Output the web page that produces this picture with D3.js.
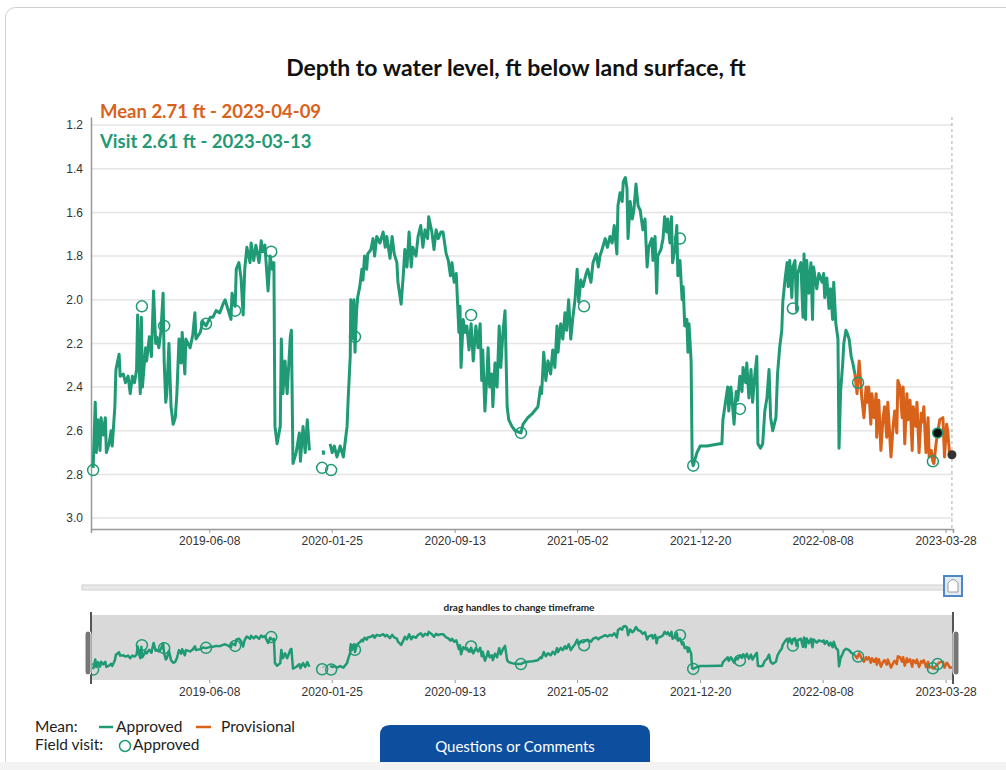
<!DOCTYPE html>
<html>
<head>
<meta charset="utf-8">
<script src="https://cdn.jsdelivr.net/npm/d3@7"></script>
<style>
  body { margin: 0; background: #fff; }
  svg { display: block; }
  .tick text { font-family: "Liberation Sans", Arial, sans-serif; fill: #333; }
</style>
</head>
<body>
<svg width="1006" height="770"></svg>
<script>
// Daily mean depth (ft below land surface)
const approved = [
  ["2018-11-01",2.77],["2018-11-05",2.47],["2018-11-07",2.70],["2018-11-10",2.55],["2018-11-14",2.69],
  ["2018-11-16",2.54],["2018-11-20",2.62],["2018-11-24",2.54],["2018-11-26",2.70],["2018-12-01",2.66],
  ["2018-12-05",2.60],["2018-12-07",2.67],["2018-12-12",2.49],["2018-12-14",2.32],["2018-12-20",2.25],
  ["2018-12-22",2.35],["2018-12-28",2.34],["2019-01-01",2.38],["2019-01-06",2.35],["2019-01-10",2.43],
  ["2019-01-14",2.35],["2019-01-18",2.38],["2019-01-22",2.32],["2019-01-24",2.07],["2019-01-27",2.32],
  ["2019-01-29",2.43],["2019-01-31",2.08],["2019-02-02",2.40],["2019-02-08",2.22],["2019-02-10",2.28],
  ["2019-02-15",2.17],["2019-02-19",2.26],["2019-02-23",1.96],["2019-02-27",2.20],["2019-03-01",2.17],
  ["2019-03-05",2.22],["2019-03-09",2.14],["2019-03-13",1.97],["2019-03-15",2.28],["2019-03-18",2.47],
  ["2019-03-20",2.43],["2019-03-24",2.20],["2019-03-28",2.49],["2019-04-01",2.57],["2019-04-05",2.54],
  ["2019-04-08",2.43],["2019-04-12",2.18],["2019-04-16",2.29],["2019-04-18",2.15],["2019-04-23",2.34],
  ["2019-04-25",2.18],["2019-05-03",2.22],["2019-05-08",2.16],["2019-05-12",2.06],["2019-05-14",2.18],
  ["2019-05-22",2.15],["2019-05-27",2.10],["2019-06-02",2.12],["2019-06-10",2.08],["2019-06-15",2.08],
  ["2019-06-21",2.05],["2019-06-28",2.06],["2019-07-04",2.02],["2019-07-08",2.00],["2019-07-14",2.05],
  ["2019-07-19",2.09],["2019-07-21",1.97],["2019-07-27",2.03],["2019-07-29",1.86],["2019-08-03",1.83],
  ["2019-08-07",1.90],["2019-08-11",2.07],["2019-08-14",1.86],["2019-08-18",1.76],["2019-08-24",1.83],
  ["2019-08-26",1.74],["2019-08-31",1.82],["2019-09-04",1.75],["2019-09-10",1.83],["2019-09-14",1.73],
  ["2019-09-17",1.78],["2019-09-21",1.75],["2019-09-27",1.96],["2019-10-01",1.80],["2019-10-05",1.86],
  ["2019-10-08",1.83],["2019-10-10",2.58],["2019-10-14",2.66],["2019-10-20",2.58],["2019-10-22",2.18],
  ["2019-10-25",2.43],["2019-10-29",2.28],["2019-11-02",2.43],["2019-11-08",2.17],["2019-11-10",2.14],
  ["2019-11-13",2.75],["2019-11-19",2.70],["2019-11-25",2.61],["2019-11-27",2.74],["2019-12-02",2.58],
  ["2019-12-06",2.70],["2019-12-10",2.55],["2019-12-14",2.69],["2019-12-15",null],
  ["2020-01-09",2.69],["2020-01-10",2.71],["2020-01-11",null],
  ["2020-01-22",2.66],["2020-01-26",2.70],["2020-01-30",2.67],["2020-02-04",2.72],["2020-02-10",2.67],
  ["2020-02-16",2.72],["2020-02-20",2.64],["2020-02-23",2.58],["2020-02-25",2.46],["2020-02-29",2.26],
  ["2020-03-01",2.00],["2020-03-03",2.18],["2020-03-07",2.00],["2020-03-09",2.24],["2020-03-12",2.05],
  ["2020-03-14",1.99],["2020-03-18",1.94],["2020-03-22",1.86],["2020-03-24",1.91],["2020-03-27",1.80],
  ["2020-03-31",1.86],["2020-04-02",1.79],["2020-04-08",1.77],["2020-04-12",1.72],["2020-04-15",1.80],
  ["2020-04-19",1.71],["2020-04-25",1.74],["2020-05-01",1.69],["2020-05-05",1.76],["2020-05-08",1.71],
  ["2020-05-14",1.81],["2020-05-18",1.71],["2020-05-22",1.79],["2020-05-27",1.83],["2020-05-29",1.92],
  ["2020-06-04",2.02],["2020-06-08",1.89],["2020-06-11",1.77],["2020-06-15",1.85],["2020-06-19",1.69],
  ["2020-06-23",1.85],["2020-06-26",1.76],["2020-07-02",1.80],["2020-07-06",1.71],["2020-07-11",1.66],
  ["2020-07-15",1.76],["2020-07-19",1.68],["2020-07-24",1.72],["2020-07-26",1.62],["2020-08-01",1.69],
  ["2020-08-05",1.77],["2020-08-09",1.68],["2020-08-13",1.72],["2020-08-18",1.69],["2020-08-22",1.69],
  ["2020-08-28",1.79],["2020-09-01",1.82],["2020-09-05",1.89],["2020-09-08",1.83],["2020-09-12",1.92],
  ["2020-09-16",1.88],["2020-09-18",1.99],["2020-09-21",2.15],["2020-09-23",2.03],["2020-09-25",2.31],
  ["2020-09-29",2.09],["2020-10-03",2.15],["2020-10-06",2.12],["2020-10-10",2.23],["2020-10-14",2.11],
  ["2020-10-18",2.28],["2020-10-23",2.12],["2020-10-27",2.22],["2020-10-31",2.11],["2020-11-03",2.37],
  ["2020-11-05",2.23],["2020-11-09",2.51],["2020-11-13",2.34],["2020-11-15",2.22],["2020-11-18",2.40],
  ["2020-11-22",2.34],["2020-11-24",2.49],["2020-11-28",2.29],["2020-12-02",2.40],["2020-12-06",2.12],
  ["2020-12-09",2.31],["2020-12-13",2.15],["2020-12-17",2.05],["2020-12-21",2.49],["2020-12-24",2.55],
  ["2020-12-30",2.58],["2021-01-05",2.60],["2021-01-16",2.61],["2021-01-20",2.57],["2021-01-29",2.54],
  ["2021-02-07",2.52],["2021-02-17",2.49],["2021-02-22",2.40],["2021-02-24",2.43],["2021-02-28",2.24],
  ["2021-03-04",2.37],["2021-03-08",2.28],["2021-03-13",2.34],["2021-03-17",2.23],["2021-03-21",2.31],
  ["2021-03-25",2.12],["2021-03-27",2.24],["2021-04-01",2.11],["2021-04-05",2.18],["2021-04-09",2.06],
  ["2021-04-12",2.14],["2021-04-16",2.00],["2021-04-20",2.18],["2021-04-24",2.08],["2021-04-28",2.00],
  ["2021-05-02",1.86],["2021-05-05",2.01],["2021-05-09",1.91],["2021-05-13",1.94],["2021-05-19",1.88],
  ["2021-05-22",1.86],["2021-05-28",1.92],["2021-06-01",1.83],["2021-06-07",1.79],["2021-06-11",1.85],
  ["2021-06-14",1.80],["2021-06-18",1.77],["2021-06-24",1.72],["2021-06-28",1.76],["2021-07-03",1.71],
  ["2021-07-07",1.74],["2021-07-11",1.66],["2021-07-16",1.79],["2021-07-18",1.57],["2021-07-22",1.51],
  ["2021-07-26",1.55],["2021-07-28",1.46],["2021-08-01",1.44],["2021-08-04",1.49],["2021-08-06",1.72],
  ["2021-08-10",1.55],["2021-08-14",1.63],["2021-08-17",1.59],["2021-08-21",1.47],["2021-08-25",1.57],
  ["2021-08-29",1.59],["2021-09-03",1.68],["2021-09-07",1.63],["2021-09-11",1.85],["2021-09-14",1.76],
  ["2021-09-20",1.72],["2021-09-22",1.82],["2021-09-26",1.71],["2021-09-29",1.97],["2021-10-01",1.80],
  ["2021-10-07",1.77],["2021-10-11",1.72],["2021-10-14",1.62],["2021-10-18",1.69],["2021-10-20",1.63],
  ["2021-10-24",1.74],["2021-10-27",1.62],["2021-10-29",1.83],["2021-11-03",1.76],["2021-11-06",1.66],
  ["2021-11-08",1.89],["2021-11-12",1.82],["2021-11-16",2.00],["2021-11-18",1.94],["2021-11-21",2.12],
  ["2021-11-25",2.09],["2021-11-27",2.24],["2021-11-29",2.11],["2021-12-03",2.28],["2021-12-05",2.74],
  ["2021-12-07",2.76],["2021-12-14",2.70],["2021-12-20",2.67],["2022-01-02",2.67],["2022-01-26",2.66],
  ["2022-01-30",2.66],["2022-02-01",2.55],["2022-02-07",2.45],["2022-02-10",2.40],["2022-02-12",2.51],
  ["2022-02-16",2.40],["2022-02-18",2.45],["2022-02-22",2.57],["2022-02-26",2.42],["2022-03-01",2.46],
  ["2022-03-05",2.35],["2022-03-09",2.42],["2022-03-11",2.31],["2022-03-16",2.38],["2022-03-18",2.29],
  ["2022-03-22",2.45],["2022-03-26",2.32],["2022-03-29",2.47],["2022-04-02",2.35],["2022-04-06",2.26],
  ["2022-04-08",2.66],["2022-04-13",2.68],["2022-04-17",2.66],["2022-04-21",2.51],["2022-04-25",2.45],
  ["2022-04-29",2.32],["2022-05-02",2.54],["2022-05-06",2.60],["2022-05-12",2.54],["2022-05-15",2.34],
  ["2022-05-19",2.22],["2022-05-23",2.14],["2022-05-25",2.01],["2022-05-29",1.91],["2022-06-02",1.83],
  ["2022-06-04",1.94],["2022-06-07",1.82],["2022-06-11",1.99],["2022-06-13",1.85],["2022-06-17",1.82],
  ["2022-06-20",2.05],["2022-06-22",1.88],["2022-06-28",1.83],["2022-07-02",2.08],["2022-07-04",1.79],
  ["2022-07-07",2.09],["2022-07-09",1.82],["2022-07-13",1.97],["2022-07-17",1.83],["2022-07-20",2.09],
  ["2022-07-22",1.85],["2022-07-28",1.95],["2022-08-01",1.88],["2022-08-07",1.92],["2022-08-10",1.88],
  ["2022-08-12",1.99],["2022-08-16",1.90],["2022-08-20",2.04],["2022-08-23",1.95],["2022-08-27",2.09],
  ["2022-08-29",1.92],["2022-09-02",2.11],["2022-09-06",2.18],["2022-09-08",2.68],["2022-09-11",2.42],
  ["2022-09-15",2.29],["2022-09-17",2.20],["2022-09-21",2.14],["2022-09-23",2.15],["2022-09-27",2.18],
  ["2022-10-01",2.26],["2022-10-04",2.29],["2022-10-08",2.34]
];

const provisional = [
  ["2022-10-08",2.34],["2022-10-12",2.43],["2022-10-16",2.28],["2022-10-19",2.38],["2022-10-21",2.45],
  ["2022-10-25",2.54],["2022-10-29",2.40],["2022-10-31",2.47],["2022-11-03",2.40],["2022-11-07",2.57],
  ["2022-11-09",2.43],["2022-11-13",2.54],["2022-11-17",2.43],["2022-11-18",2.63],["2022-11-22",2.46],
  ["2022-11-26",2.69],["2022-11-30",2.54],["2022-12-03",2.49],["2022-12-07",2.63],["2022-12-09",2.47],
  ["2022-12-15",2.72],["2022-12-19",2.58],["2022-12-22",2.51],["2022-12-26",2.61],["2022-12-28",2.37],
  ["2023-01-01",2.40],["2023-01-05",2.54],["2023-01-07",2.40],["2023-01-10",2.66],["2023-01-14",2.43],
  ["2023-01-16",2.55],["2023-01-20",2.46],["2023-01-24",2.69],["2023-01-26",2.49],["2023-01-31",2.58],
  ["2023-02-02",2.47],["2023-02-06",2.70],["2023-02-10",2.52],["2023-02-12",2.56],["2023-02-15",2.49],
  ["2023-02-19",2.70],["2023-02-23",2.54],["2023-02-25",2.72],["2023-03-01",2.69],["2023-03-04",2.74],
  ["2023-03-06",2.75],["2023-03-10",2.66],["2023-03-13",2.61],["2023-03-17",2.55],["2023-03-23",2.54],
  ["2023-03-26",2.72],["2023-03-30",2.57],["2023-04-01",2.60],["2023-04-05",2.72],["2023-04-09",2.71]
];

const fieldVisits = [
  ["2018-11-01",2.78],["2019-02-01",2.03],["2019-03-15",2.12],["2019-06-02",2.11],["2019-07-27",2.05],
  ["2019-10-03",1.78],["2020-01-07",2.77],["2020-01-24",2.78],["2020-03-09",2.17],["2020-10-14",2.07],
  ["2021-01-16",2.61],["2021-05-15",2.03],["2021-11-12",1.72],["2021-12-07",2.76],["2022-03-05",2.50],
  ["2022-06-13",2.04],["2022-10-14",2.38],["2023-03-04",2.74]
];

const latestVisit = ["2023-03-13", 2.61];
const latestMean = ["2023-04-09", 2.71];

const yTicks = [1.2, 1.4, 1.6, 1.8, 2.0, 2.2, 2.4, 2.6, 2.8, 3.0];
const xTickLabels = ["2019-06-08", "2020-01-25", "2020-09-13", "2021-05-02", "2021-12-20", "2022-08-08", "2023-03-28"];

const GREEN = "#1f9a74";
const ORANGE = "#d9621a";

const parse = d3.timeParse("%Y-%m-%d");
const fmt = d3.timeFormat("%Y-%m-%d");
const svg = d3.select("svg");

// card outline
svg.append("rect")
  .attr("x", 5.5).attr("y", 7.5).attr("width", 1030).attr("height", 820)
  .attr("rx", 10).attr("fill", "#fff").attr("stroke", "#cfcfcf");

// scales
const x = d3.scaleTime().domain([parse("2018-10-28"), parse("2023-04-11")]).range([91, 953]);
const y = d3.scaleLinear().domain([1.163, 3.05]).range([117, 529]);
const x2 = x.copy();
const y2 = d3.scaleLinear().domain([1.1, 3.1]).range([615, 680]);

// title
svg.append("text")
  .attr("x", 516).attr("y", 76)
  .attr("text-anchor", "middle")
  .style("font-family", "Lato, sans-serif").style("font-weight", 700).style("font-size", "23px")
  .attr("fill", "#111")
  .text("Depth to water level, ft below land surface, ft");

// grid
svg.append("g").selectAll("line").data(yTicks).join("line")
  .attr("x1", 91).attr("x2", 953)
  .attr("y1", d => y(d)).attr("y2", d => y(d))
  .attr("stroke", "#e6e4e4").attr("stroke-width", 1.5);

// axes
const xAxis = d3.axisBottom(x)
  .tickValues(xTickLabels.map(parse))
  .tickFormat(fmt).tickSize(4).tickPadding(3);
const yAxis = d3.axisLeft(y).tickValues(yTicks).tickFormat(d3.format(".1f")).tickSize(0).tickPadding(8);

const gx = svg.append("g").attr("transform", "translate(0,529)").call(xAxis);
gx.selectAll("text").style("font-size", "12px");
gx.selectAll("line").attr("stroke", "#999");
gx.select(".domain").attr("stroke", "#999").attr("stroke-width", 1.5);

const gy = svg.append("g").attr("transform", "translate(91,0)").call(yAxis);
gy.selectAll("text").style("font-size", "12px");
gy.select(".domain").attr("stroke", "#999").attr("stroke-width", 1.5);

// dashed cursor line
svg.append("line")
  .attr("x1", x(parse(latestMean[0]))).attr("x2", x(parse(latestMean[0])))
  .attr("y1", 117).attr("y2", 529)
  .attr("stroke", "#aaa").attr("stroke-dasharray", "3,3");

// lines
const line = d3.line()
  .defined(d => d[1] != null)
  .x(d => x(parse(d[0])))
  .y(d => y(d[1]));

svg.append("path").datum(approved)
  .attr("d", line).attr("fill", "none")
  .attr("stroke", GREEN).attr("stroke-width", 3).attr("stroke-linejoin", "round");
svg.append("path").datum(provisional)
  .attr("d", line).attr("fill", "none")
  .attr("stroke", ORANGE).attr("stroke-width", 3).attr("stroke-linejoin", "round");

svg.append("g").selectAll("circle").data(fieldVisits).join("circle")
  .attr("cx", d => x(parse(d[0]))).attr("cy", d => y(d[1]))
  .attr("r", 5.5).attr("fill", "none").attr("stroke", GREEN).attr("stroke-width", 1.5);

// highlighted points
svg.append("circle")
  .attr("cx", x(parse(latestVisit[0]))).attr("cy", y(latestVisit[1]))
  .attr("r", 5).attr("fill", "#111").attr("stroke", GREEN).attr("stroke-width", 1.5);
svg.append("circle")
  .attr("cx", x(parse(latestMean[0]))).attr("cy", y(latestMean[1]))
  .attr("r", 4.5).attr("fill", "#333");

// hover labels
svg.append("text")
  .attr("x", 100).attr("y", 118)
  .style("font-family", "Lato, sans-serif").style("font-weight", 700).style("font-size", "18.5px")
  .attr("fill", ORANGE)
  .text(`Mean ${latestMean[1]} ft - ${latestMean[0]}`);
svg.append("text")
  .attr("x", 100).attr("y", 148)
  .style("font-family", "Lato, sans-serif").style("font-weight", 700).style("font-size", "18.5px")
  .attr("fill", GREEN)
  .text(`Visit ${latestVisit[1]} ft - ${latestVisit[0]}`);

// slider bar
svg.append("rect")
  .attr("x", 82).attr("y", 585).attr("width", 864).attr("height", 5)
  .attr("fill", "#e9e9e9").attr("stroke", "#d0d0d0");
svg.append("rect")
  .attr("x", 944).attr("y", 576).attr("width", 18).attr("height", 20)
  .attr("fill", "#e3ebf5").attr("stroke", "#4f86c6").attr("stroke-width", 2);
svg.append("path")
  .attr("d", "M948,592 V583 Q953,576 958,583 V592 Z")
  .attr("fill", "#fff").attr("stroke", "#999");

// brush / overview
svg.append("text")
  .attr("x", 519).attr("y", 611)
  .attr("text-anchor", "middle")
  .style("font-family", "Lato, sans-serif").style("font-weight", 700).style("font-size", "10px")
  .attr("fill", "#222")
  .text("drag handles to change timeframe");

svg.append("rect")
  .attr("x", 91).attr("y", 615).attr("width", 862).attr("height", 65)
  .attr("fill", "#d9d9d9");

const line2 = d3.line()
  .defined(d => d[1] != null)
  .x(d => x2(parse(d[0])))
  .y(d => y2(d[1]));

svg.append("path").datum(approved)
  .attr("d", line2).attr("fill", "none")
  .attr("stroke", GREEN).attr("stroke-width", 2.5).attr("stroke-linejoin", "round");
svg.append("path").datum(provisional)
  .attr("d", line2).attr("fill", "none")
  .attr("stroke", ORANGE).attr("stroke-width", 2.5).attr("stroke-linejoin", "round");
svg.append("g").selectAll("circle").data(fieldVisits.concat([latestVisit])).join("circle")
  .attr("cx", d => x2(parse(d[0]))).attr("cy", d => y2(d[1]))
  .attr("r", 5.5).attr("fill", "none").attr("stroke", GREEN).attr("stroke-width", 1.5);

// brush handles
[91, 953].forEach((hx, i) => {
  svg.append("line")
    .attr("x1", hx).attr("x2", hx).attr("y1", 612).attr("y2", 684)
    .attr("stroke", "#555").attr("stroke-width", 2);
  svg.append("rect")
    .attr("x", i === 0 ? hx - 6 : hx).attr("y", 631).attr("width", 6).attr("height", 44)
    .attr("rx", 3).attr("fill", "#777").attr("stroke", "#fff").attr("stroke-width", 1);
});

const gx2 = svg.append("g").attr("transform", "translate(0,680)")
  .call(d3.axisBottom(x2).tickValues(xTickLabels.map(parse)).tickFormat(fmt).tickSize(3).tickPadding(4));
gx2.select(".domain").remove();
gx2.selectAll("text").style("font-size", "12px");
gx2.selectAll("line").attr("stroke", "#999");

// legend
const lg = svg.append("g")
  .style("font-family", "Lato, sans-serif").style("font-size", "15.5px").attr("fill", "#222");
lg.append("text").attr("x", 35).attr("y", 732).text("Mean:");
lg.append("line").attr("x1", 99).attr("x2", 113).attr("y1", 727).attr("y2", 727)
  .attr("stroke", GREEN).attr("stroke-width", 2.5);
lg.append("text").attr("x", 116).attr("y", 732).text("Approved");
lg.append("line").attr("x1", 196).attr("x2", 211).attr("y1", 727).attr("y2", 727)
  .attr("stroke", ORANGE).attr("stroke-width", 2.5);
lg.append("text").attr("x", 221).attr("y", 732).text("Provisional");
lg.append("text").attr("x", 35).attr("y", 750).text("Field visit:");
lg.append("circle").attr("cx", 125).attr("cy", 746).attr("r", 5.5)
  .attr("fill", "none").attr("stroke", GREEN).attr("stroke-width", 1.5);
lg.append("text").attr("x", 133).attr("y", 750).text("Approved");

// feedback button
svg.append("path")
  .attr("d", "M380,762 V735 Q380,725 390,725 H640 Q650,725 650,735 V762 Z")
  .attr("fill", "#0d4f9e");
svg.append("text")
  .attr("x", 515).attr("y", 752)
  .attr("text-anchor", "middle")
  .style("font-family", "Lato, sans-serif").style("font-size", "15px")
  .attr("fill", "#fff")
  .text("Questions or Comments");
svg.append("rect")
  .attr("x", 0).attr("y", 762).attr("width", 1006).attr("height", 8)
  .attr("fill", "#f3f3f3");
</script>
</body>
</html>
